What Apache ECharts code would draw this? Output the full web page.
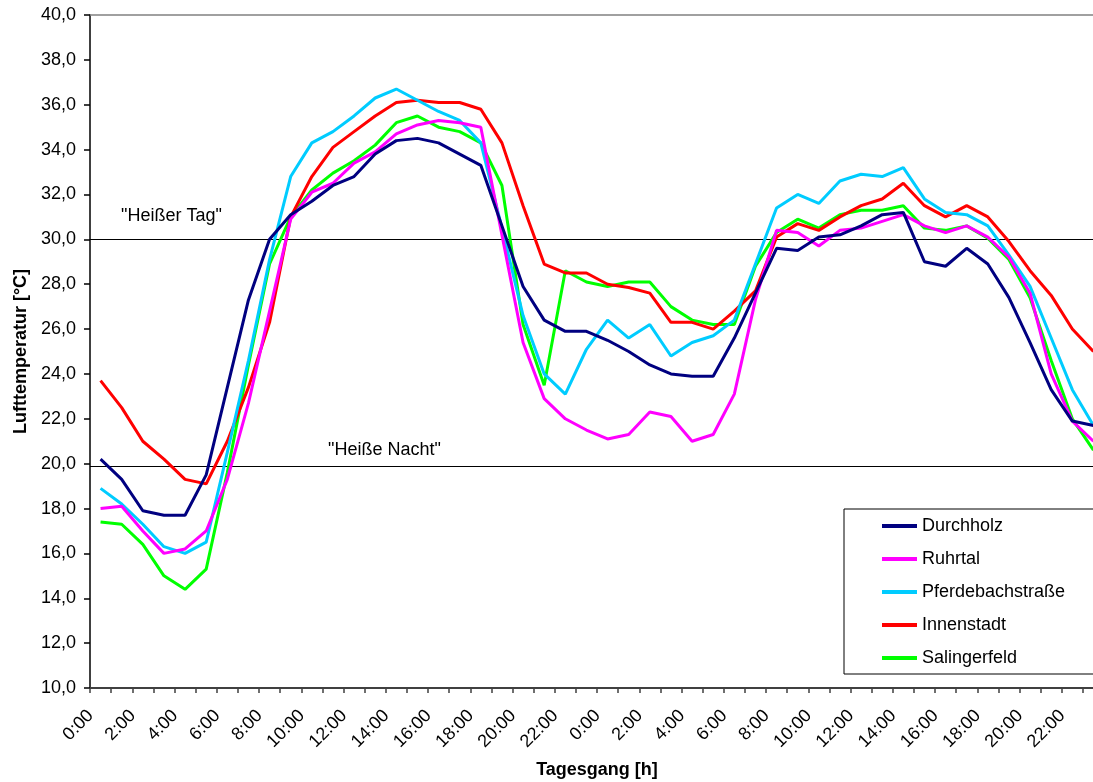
<!DOCTYPE html>
<html>
<head>
<meta charset="utf-8">
<script src="https://cdn.jsdelivr.net/npm/echarts@6/dist/echarts.min.js"></script>
<style>
html,body{margin:0;padding:0;overflow:hidden;background:#fff;}
#c{width:1110px;height:782px;}
</style>
</head>
<body>
<div id="c"></div>
<script>
const hours = [];
for (let d = 0; d < 2; d++) for (let h = 0; h < 24; h++) hours.push(h + ':00');

const seriesNames = ['Durchholz', 'Ruhrtal', 'Pferdebachstraße', 'Innenstadt', 'Salingerfeld'];

const durchholz = [20.2, 19.3, 17.9, 17.7, 17.7, 19.5, 23.4, 27.3, 30.0, 31.1, 31.7, 32.4, 32.8, 33.8, 34.4, 34.5, 34.3, 33.8, 33.3, 30.6, 27.9, 26.4, 25.9, 25.9, 25.5, 25.0, 24.4, 24.0, 23.9, 23.9, 25.6, 27.6, 29.6, 29.5, 30.1, 30.2, 30.6, 31.1, 31.2, 29.0, 28.8, 29.6, 28.9, 27.4, 25.4, 23.3, 21.9, 21.7];
const ruhrtal = [18.0, 18.1, 17.0, 16.0, 16.2, 17.0, 19.3, 22.7, 26.8, 30.9, 32.1, 32.5, 33.4, 33.9, 34.7, 35.1, 35.3, 35.2, 35.0, 30.2, 25.4, 22.9, 22.0, 21.5, 21.1, 21.3, 22.3, 22.1, 21.0, 21.3, 23.1, 27.3, 30.4, 30.3, 29.7, 30.4, 30.5, 30.8, 31.1, 30.6, 30.3, 30.6, 30.1, 29.2, 27.6, 24.0, 21.9, 21.0];
const pferdebach = [18.9, 18.2, 17.3, 16.3, 16.0, 16.5, 20.5, 24.6, 29.1, 32.8, 34.3, 34.8, 35.5, 36.3, 36.7, 36.2, 35.7, 35.3, 34.3, 30.5, 26.6, 24.0, 23.1, 25.1, 26.4, 25.6, 26.2, 24.8, 25.4, 25.7, 26.4, 28.9, 31.4, 32.0, 31.6, 32.6, 32.9, 32.8, 33.2, 31.8, 31.2, 31.1, 30.6, 29.3, 27.9, 25.6, 23.3, 21.7];
const innenstadt = [23.7, 22.5, 21.0, 20.2, 19.3, 19.1, 21.0, 23.4, 26.3, 31.0, 32.8, 34.1, 34.8, 35.5, 36.1, 36.2, 36.1, 36.1, 35.8, 34.3, 31.5, 28.9, 28.5, 28.5, 28.0, 27.85, 27.6, 26.3, 26.3, 26.0, 26.8, 27.7, 30.1, 30.7, 30.4, 31.0, 31.5, 31.8, 32.5, 31.5, 31.0, 31.5, 31.0, 29.9, 28.6, 27.5, 26.0, 25.0];
const salingerfeld = [17.4, 17.3, 16.4, 15.0, 14.4, 15.3, 19.6, 24.4, 28.9, 31.0, 32.2, 32.95, 33.5, 34.2, 35.2, 35.5, 35.0, 34.8, 34.3, 32.4, 26.2, 23.5, 28.6, 28.1, 27.9, 28.1, 28.1, 27.0, 26.4, 26.2, 26.2, 28.8, 30.3, 30.9, 30.5, 31.1, 31.3, 31.3, 31.5, 30.5, 30.4, 30.6, 30.05, 29.1, 27.4, 24.6, 22.0, 20.6];

const colors = ['#000080', '#FF00FF', '#00CCFF', '#FF0000', '#00FF00'];
const values = [durchholz, ruhrtal, pferdebach, innenstadt, salingerfeld];

const hotDayLevel = 30;
const hotNightLevel = 19.9;
const yMin = 10, yMax = 40, yStep = 2;

const FONT = "'Liberation Sans', Arial, sans-serif";

const series = seriesNames.map((name, i) => ({
  name: name,
  type: 'line',
  data: values[i],
  symbol: 'none',
  smooth: false,
  z: 10 - i,
  lineStyle: { color: colors[i], width: 3 },
  itemStyle: { color: colors[i] },
  emphasis: { disabled: true }
}));

series.push({
  name: '_ref',
  type: 'line',
  data: [],
  silent: true,
  markLine: {
    silent: true,
    symbol: 'none',
    animation: false,
    data: [
      { yAxis: yMax, lineStyle: { color: '#808080', width: 1.5, type: 'solid' }, label: { show: false } },
      { yAxis: hotDayLevel, lineStyle: { color: '#000', width: 1.2, type: 'solid' },
        label: { show: true, position: 'insideStartTop', formatter: '"Heißer Tag"', color: '#000', fontSize: 18, fontFamily: FONT, padding: [0, 0, 9, 26] } },
      { yAxis: hotNightLevel, lineStyle: { color: '#000', width: 1.2, type: 'solid' },
        label: { show: true, position: 'insideStartTop', formatter: '"Heiße Nacht"', color: '#000', fontSize: 18, fontFamily: FONT, padding: [0, 0, 2, 233] } }
    ]
  }
});

const chart = echarts.init(document.getElementById('c'), null, { renderer: 'canvas' });
chart.setOption({
  animation: false,
  backgroundColor: '#fff',
  textStyle: { fontFamily: FONT },
  grid: { left: 90, right: 6, top: 15, bottom: 94, containLabel: false, outerBoundsMode: 'none' },
  legend: {
    data: seriesNames,
    orient: 'vertical',
    left: 844,
    top: 509,
    padding: [8, 40, 7, 38],
    itemGap: 15,
    itemWidth: 35,
    itemHeight: 4,
    icon: 'rect',
    borderColor: '#000',
    borderWidth: 1,
    backgroundColor: '#fff',
    textStyle: { fontSize: 18, color: '#000', fontFamily: FONT, lineHeight: 18 }
  },
  xAxis: {
    type: 'category',
    data: hours,
    boundaryGap: true,
    name: 'Tagesgang [h]',
    nameLocation: 'middle',
    nameGap: 73,
    nameTextStyle: { fontSize: 18, fontWeight: 'bold', color: '#000', fontFamily: FONT },
    axisLine: { lineStyle: { color: '#404040', width: 2 } },
    axisTick: { show: true, interval: 0, length: 5, lineStyle: { color: '#404040', width: 1.5 } },
    axisLabel: { interval: 1, rotate: 45, fontSize: 18, color: '#000', margin: 15, padding: [0, 14, 0, 0], fontFamily: FONT },
    splitLine: { show: false }
  },
  yAxis: {
    type: 'value',
    min: yMin,
    max: yMax,
    interval: yStep,
    name: 'Lufttemperatur [°C]',
    nameLocation: 'middle',
    nameGap: 60,
    nameTextStyle: { fontSize: 18, fontWeight: 'bold', color: '#000', fontFamily: FONT },
    axisLine: { show: true, lineStyle: { color: '#000', width: 1.5 } },
    axisTick: { show: true, length: 6, lineStyle: { color: '#000', width: 1.5 } },
    axisLabel: { fontSize: 18, color: '#000', margin: 14, fontFamily: FONT,
      formatter: v => v.toFixed(1).replace('.', ',') },
    splitLine: { show: false }
  },
  series: series
});
</script>
</body>
</html>
